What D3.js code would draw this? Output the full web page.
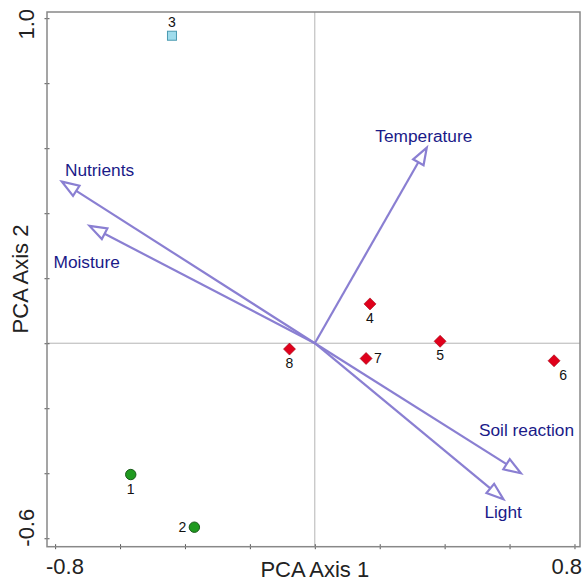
<!doctype html>
<html lang="en">
<head>
    <meta charset="utf-8">
    <title>PCA biplot</title>
    <style>
        body { margin: 0; background: #fff; }
        svg { display: block; font-family: "Liberation Sans", Arial, sans-serif; }
        .frame { fill: none; stroke: #888; stroke-width: 1.5; }
        .zero { stroke: #b4b4b4; stroke-width: 1; }
        .tick line { stroke: #555; }
        .vec { stroke: #8a7fd2; stroke-width: 2.2; fill: #fff; }
        .vec-label { fill: #1a1a88; font-size: 17.3px; }
        .num { fill: #111; font-size: 14px; }
        .axis-text { font-size: 22px; fill: #222; }
    </style>
</head>
<body>
<svg id="chart" width="582" height="581"></svg>

<script src="https://d3js.org/d3.v7.min.js"></script>
<script>

    // samples (PCA scores)
    let sampleIds   = ["1", "2", "3", "4", "5", "6", "7", "8"];
    let sampleX     = [-0.567, -0.371, -0.440, 0.170, 0.386, 0.737, 0.158, -0.078];
    let sampleY     = [-0.404, -0.566, 0.946, 0.121, 0.006, -0.054, -0.047, -0.018];
    let sampleGroup = ["g", "g", "b", "r", "r", "r", "r", "r"];

    // environmental variables (arrows)
    let varNames = ["Temperature", "Nutrients", "Moisture", "Soil reaction", "Light"];
    let varX     = [0.345, -0.779, -0.694, 0.635, 0.581];
    let varY     = [0.602, 0.497, 0.361, -0.400, -0.480];

    let xTicks = [-0.8, -0.6, -0.4, -0.2, 0, 0.2, 0.4, 0.6, 0.8];
    let yTicks = [-0.6, -0.4, -0.2, 0, 0.2, 0.4, 0.6, 0.8, 1.0];
    let xLabelTicks = [-0.8, 0.8];
    let yLabelTicks = [-0.6, 1.0];

    // label placement (px offsets from the mark)
    let numOffset = {
        "1": [0, 19, "middle"], "2": [-8, 5, "end"], "3": [0, -9, "middle"],
        "4": [0, 19, "middle"], "5": [0, 19, "middle"], "6": [9, 19, "middle"],
        "7": [8, 5, "start"], "8": [0, 19, "middle"]
    };
    let varOffset = {
        "Temperature": [-3, -6, "middle"], "Nutrients": [3, -6, "start"],
        "Moisture": [-36, 42, "start"], "Soil reaction": [-42, -37, "start"],
        "Light": [-19, 19, "start"]
    };

    let svg = d3.select("#chart");
    let pLeft = 47, pRight = 580, pTop = 12, pBottom = 546.7;

    let x = d3.scaleLinear().domain([-0.825, 0.817]).range([pLeft, pRight]);
    let y = d3.scaleLinear().domain([-0.626, 1.019]).range([pBottom, pTop]);

    // zero lines
    svg.append("line").attr("class", "zero")
        .attr("x1", x(0)).attr("x2", x(0)).attr("y1", pTop).attr("y2", pBottom);
    svg.append("line").attr("class", "zero")
        .attr("x1", pLeft).attr("x2", pRight).attr("y1", y(0)).attr("y2", y(0));

    // axes: ticks crossing the frame
    let xAxis = svg.append("g").attr("transform", "translate(0," + (pBottom - 2.5) + ")")
        .call(d3.axisBottom(x).tickValues(xTicks).tickSize(5).tickFormat(""));
    let yAxis = svg.append("g").attr("transform", "translate(" + (pLeft + 2.5) + ",0)")
        .call(d3.axisLeft(y).tickValues(yTicks).tickSize(5).tickFormat(""));
    xAxis.select(".domain").remove();
    yAxis.select(".domain").remove();

    svg.append("rect").attr("class", "frame")
        .attr("x", pLeft).attr("y", pTop)
        .attr("width", pRight - pLeft).attr("height", pBottom - pTop);

    // tick labels
    let fmt = d3.format(".1f");
    svg.selectAll(".xlab").data(xLabelTicks).enter().append("text")
        .attr("class", "axis-text")
        .attr("x", function (d, i) { return i === 0 ? pLeft - 1 : 582; })
        .attr("y", 574)
        .attr("text-anchor", function (d, i) { return i === 0 ? "start" : "end"; })
        .text(function (d) { return fmt(d).replace("\u2212", "-"); });

    svg.selectAll(".ylab").data(yLabelTicks).enter().append("text")
        .attr("class", "axis-text")
        .attr("transform", function (d, i) {
            return "translate(33.5," + (i === 0 ? pBottom : 9) + ") rotate(-90)";
        })
        .attr("text-anchor", function (d, i) { return i === 0 ? "start" : "end"; })
        .text(function (d) { return fmt(d).replace("\u2212", "-"); });

    // axis titles
    svg.append("text").attr("class", "axis-text")
        .attr("x", x(0)).attr("y", 576.5)
        .attr("text-anchor", "middle")
        .text("PCA Axis 1");
    svg.append("text").attr("class", "axis-text")
        .attr("transform", "translate(27.5,279) rotate(-90)")
        .attr("text-anchor", "middle")
        .text("PCA Axis 2");

    // arrows
    let headLen = 17, headW = 6;
    let vars = varNames.map(function (n, i) { return { name: n, vx: varX[i], vy: varY[i] }; });
    svg.selectAll(".v").data(vars).enter().append("g").each(function (d) {
        let g = d3.select(this);
        let x0 = x(0), y0 = y(0), x1 = x(d.vx), y1 = y(d.vy);
        let dx = x1 - x0, dy = y1 - y0, len = Math.sqrt(dx * dx + dy * dy);
        let ux = dx / len, uy = dy / len;
        let bx = x1 - ux * headLen, by = y1 - uy * headLen;
        g.append("line").attr("class", "vec")
            .attr("x1", x0).attr("y1", y0).attr("x2", bx).attr("y2", by);
        g.append("path").attr("class", "vec")
            .attr("stroke-linejoin", "miter")
            .attr("d", "M" + x1 + "," + y1 +
                "L" + (bx - uy * headW) + "," + (by + ux * headW) +
                "L" + (bx + uy * headW) + "," + (by - ux * headW) + "Z");
        let o = varOffset[d.name];
        g.append("text").attr("class", "vec-label")
            .attr("x", x1 + o[0]).attr("y", y1 + o[1])
            .attr("text-anchor", o[2])
            .text(d.name);
    });

    // samples
    let samples = sampleIds.map(function (id, i) {
        return { id: id, sx: sampleX[i], sy: sampleY[i], grp: sampleGroup[i] };
    });
    svg.selectAll(".s").data(samples).enter().append("g")
        .attr("transform", function (d) { return "translate(" + x(d.sx) + "," + y(d.sy) + ")"; })
        .each(function (d) {
            let g = d3.select(this);
            if (d.grp === "g") {
                g.append("circle").attr("r", 5.2)
                    .attr("fill", "#1f9a1f").attr("stroke", "#1a5a1a").attr("stroke-width", 1);
            } else if (d.grp === "b") {
                g.append("rect").attr("x", -4.5).attr("y", -4.5).attr("width", 9).attr("height", 9)
                    .attr("fill", "#9fdcec").attr("stroke", "#4a9ab0").attr("stroke-width", 1);
            } else {
                g.append("path").attr("d", "M0,-6L6,0L0,6L-6,0Z")
                    .attr("fill", "#e0001b").attr("stroke", "#a00010").attr("stroke-width", 0.6);
            }
            let o = numOffset[d.id];
            g.append("text").attr("class", "num")
                .attr("x", o[0]).attr("y", o[1]).attr("text-anchor", o[2])
                .text(d.id);
        });

</script>
</body>
</html>
